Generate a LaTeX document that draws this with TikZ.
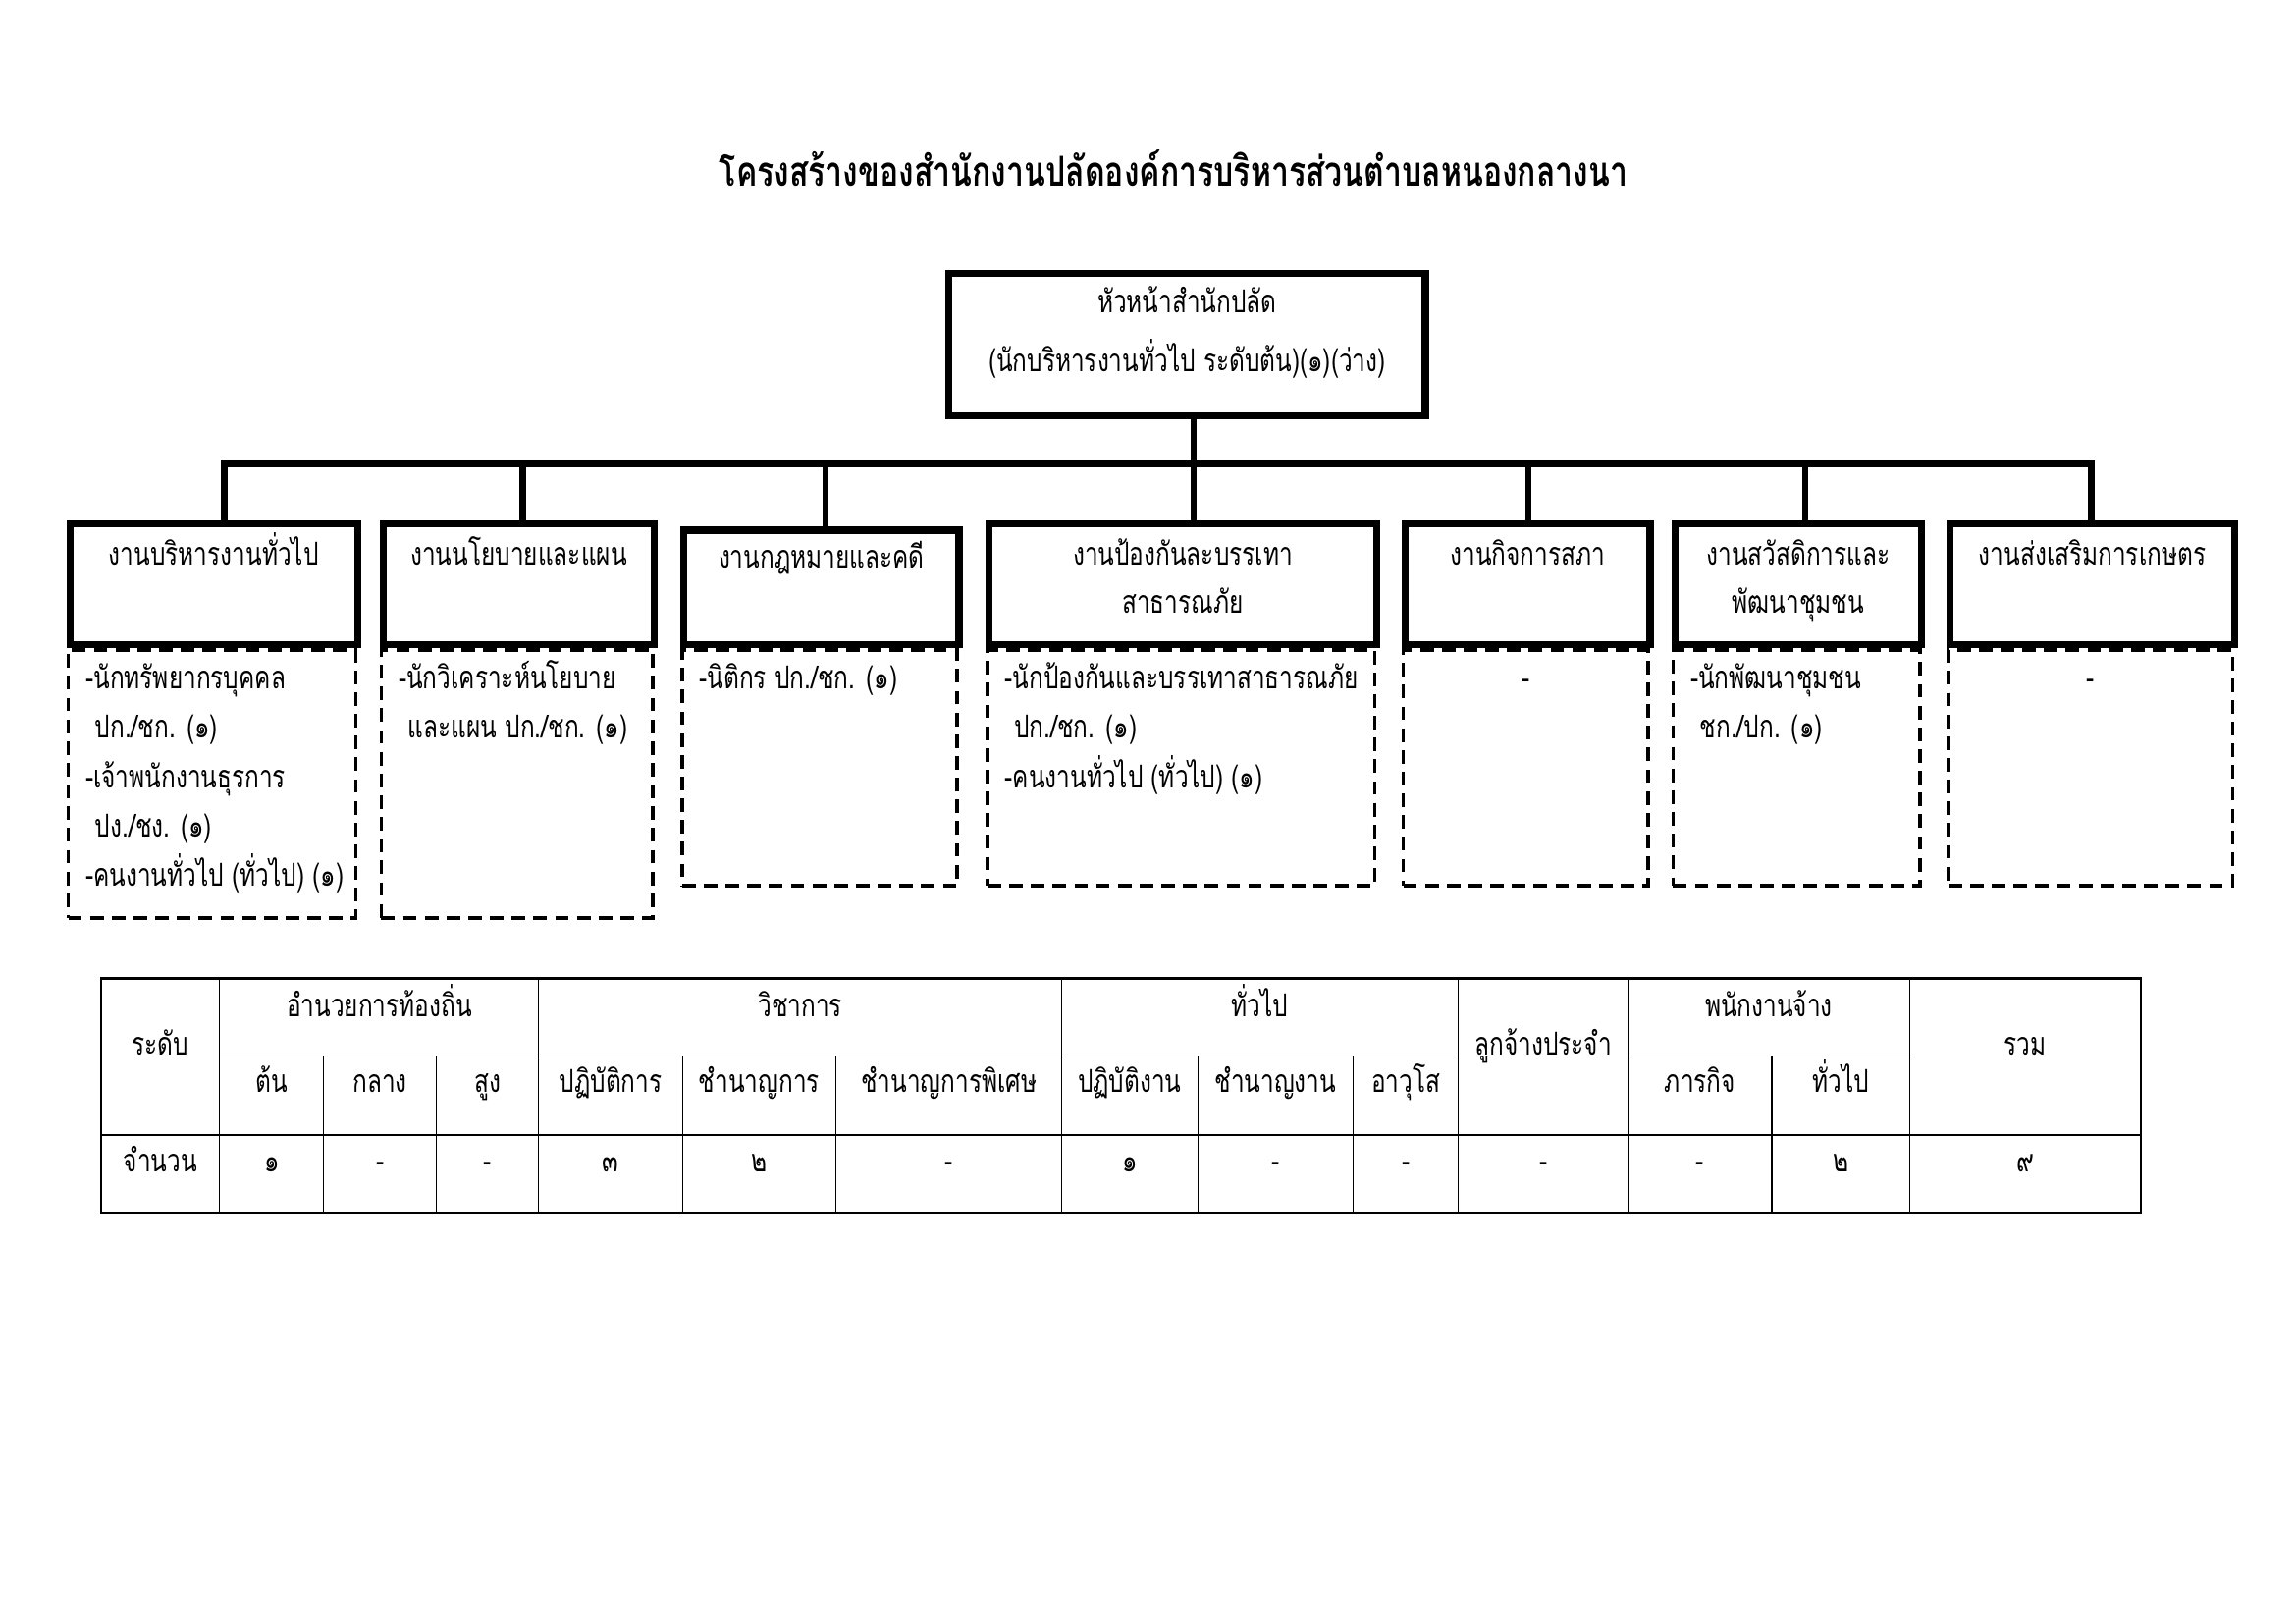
\documentclass[tikz,border=0pt]{standalone}
\usepackage{fontspec}
\setmainfont{Loma}[Script=Thai, FakeStretch=0.76]
\usetikzlibrary{positioning,calc}
\tikzset{
  headbox/.style={draw, line width=2.6pt, fill=white, anchor=north west, minimum height=1.56cm},
  listbox/.style={draw, line width=1.3pt, dash pattern=on 5pt off 3pt, anchor=north west},
  busline/.style={line width=2.3pt, line cap=rect},
  boxtext/.style={align=center, inner sep=0pt, font=\fontsize{11.6}{17.6}\selectfont},
  listtext/.style={align=left, inner sep=0pt, font=\fontsize{11.6}{18.2}\selectfont},
  cell/.style={inner sep=0pt, text height=0.35cm, text depth=0.15cm, font=\fontsize{11.6}{13}\selectfont},
  tabline/.style={line width=0.4pt},
  tabframe/.style={line width=1pt}
}

\begin{document}
\begin{tikzpicture}
  \fill[white] (0,0) rectangle (29.7,21.0);
  \useasboundingbox (0,0) rectangle (29.7,21.0);

  % title
  \node[cell, font=\fontsize{15.2}{17}\selectfont\bfseries] (title) at (15.18,18.70)
    {โครงสร้างของสำนักงานปลัดองค์การบริหารส่วนตำบลหนองกลางนา};

  % head of office
  \node[headbox, minimum width=6.16cm, minimum height=1.84cm] (top) at (12.23,17.51) {};
  \node[boxtext, font=\fontsize{11.6}{21.5}\selectfont, below=0.02cm of top.north] (topt)
    {\strut หัวหน้าสำนักปลัด\\(นักบริหารงานทั่วไป ระดับต้น)(๑)(ว่าง)};

  % sections
  \node[headbox, minimum width=3.72cm] (s1) at (0.86,14.27) {};
  \node[headbox, minimum width=3.51cm] (s2) at (4.91,14.27) {};
  \node[headbox, minimum width=3.56cm, minimum height=1.48cm] (s3) at (8.80,14.19) {};
  \node[headbox, minimum width=5.01cm] (s4) at (12.75,14.27) {};
  \node[headbox, minimum width=3.17cm] (s5) at (18.13,14.27) {};
  \node[headbox, minimum width=3.19cm] (s6) at (21.62,14.27) {};
  \node[headbox, minimum width=3.68cm] (s7) at (25.18,14.27) {};

  \node[boxtext, below=0.14cm of s1.north] (s1t) {\strut งานบริหารงานทั่วไป};
  \node[boxtext, below=0.14cm of s2.north] (s2t) {\strut งานนโยบายและแผน};
  \node[boxtext, below=0.10cm of s3.north] (s3t) {\strut งานกฎหมายและคดี};
  \node[boxtext, below=0.14cm of s4.north] (s4t) {\strut งานป้องกันละบรรเทา\\สาธารณภัย};
  \node[boxtext, below=0.14cm of s5.north] (s5t) {\strut งานกิจการสภา};
  \node[boxtext, below=0.14cm of s6.north] (s6t) {\strut งานสวัสดิการและ\\พัฒนาชุมชน};
  \node[boxtext, below=0.14cm of s7.north] (s7t) {\strut งานส่งเสริมการเกษตร};

  % staff lists
  \node[listbox, minimum width=3.72cm, minimum height=3.47cm] (l1) at (s1.south west) {};
  \node[listbox, minimum width=3.51cm, minimum height=3.47cm] (l2) at (s2.south west) {};
  \node[listbox, minimum width=3.56cm, minimum height=3.05cm] (l3) at (s3.south west) {};
  \node[listbox, minimum width=5.01cm, minimum height=3.05cm] (l4) at (s4.south west) {};
  \node[listbox, minimum width=3.17cm, minimum height=3.05cm] (l5) at (s5.south west) {};
  \node[listbox, minimum width=3.19cm, minimum height=3.05cm] (l6) at (s6.south west) {};
  \node[listbox, minimum width=3.68cm, minimum height=3.05cm] (l7) at (s7.south west) {};

  \node[listtext, below right=0.07cm and 0.24cm of l1.north west] (l1t)
    {\strut -นักทรัพยากรบุคคล\\\hspace*{.3em}ปก./ชก. (๑)\\-เจ้าพนักงานธุรการ\\\hspace*{.3em}ปง./ชง. (๑)\\-คนงานทั่วไป (ทั่วไป) (๑)};
  \node[listtext, below right=0.07cm and 0.24cm of l2.north west] (l2t)
    {\strut -นักวิเคราะห์นโยบาย\\\hspace*{.3em}และแผน ปก./ชก. (๑)};
  \node[listtext, below right=0.07cm and 0.24cm of l3.north west] (l3t)
    {\strut -นิติกร ปก./ชก. (๑)};
  \node[listtext, below right=0.07cm and 0.24cm of l4.north west] (l4t)
    {\strut -นักป้องกันและบรรเทาสาธารณภัย\\\hspace*{.3em}ปก./ชก. (๑)\\-คนงานทั่วไป (ทั่วไป) (๑)};
  \node[listtext, below=0.07cm of l5.north] (l5t) {\strut -};
  \node[listtext, below right=0.07cm and 0.24cm of l6.north west] (l6t)
    {\strut -นักพัฒนาชุมชน\\\hspace*{.3em}ชก./ปก. (๑)};
  \node[listtext, below=0.07cm of l7.north] (l7t) {\strut -};

  % connectors
  \foreach \x [count=\i] in {2.90,6.76,10.68,15.44,19.77,23.35,27.05}
    \coordinate (b\i) at (\x,15.0);
  \draw[busline] (b1) -- (b7);
  \draw[busline] (top.south -| b4) -- (b4);
  \foreach \i in {1,...,7}
    \draw[busline] (b\i) -- (b\i |- s\i.north);

  % table
  \draw[tabline] (2.841,7.344) -- (18.865,7.344) (21.062,7.344) -- (24.699,7.344);
  \foreach \x in {2.841,6.970,13.732,18.865,21.062,24.699}
    \draw[tabline] (\x,8.347) -- (\x,5.317);
  \foreach \x in {4.186,5.644,8.827,10.815,15.494,17.502,22.919}
    \draw[tabline] (\x,7.344) -- (\x,5.317);
  \draw[tabframe] (1.307,6.321) -- (27.692,6.321);
  \draw[tabframe] (1.307,8.347) rectangle (27.692,5.317);

  \node[cell] (lvl) at (2.074,7.46) {ระดับ};
  \node[cell] (emp) at (19.964,7.46) {ลูกจ้างประจำ};
  \node[cell] (tot) at (26.196,7.46) {รวม};
  \node[cell] (cnt) at (2.074,5.95) {จำนวน};
  \foreach \x/\t [count=\i] in {4.906/อำนวยการท้องถิ่น,10.351/วิชาการ,16.299/ทั่วไป,22.881/พนักงานจ้าง}
    \node[cell] (g\i) at (\x,7.955) {\t};
  \foreach \x/\t [count=\i] in {3.514/ต้น,4.915/กลาง,6.307/สูง,7.899/ปฏิบัติการ,9.821/ชำนาญการ,
      12.274/ชำนาญการพิเศษ,14.613/ปฏิบัติงาน,16.498/ชำนาญงาน,18.184/อาวุโส,21.991/ภารกิจ,23.809/ทั่วไป}
    \node[cell] (h\i) at (\x,6.97) {\t};
  \foreach \x/\t [count=\i] in {3.514/๑,4.915/-,6.307/-,7.899/๓,9.821/๒,12.274/-,14.613/๑,
      16.498/-,18.184/-,19.964/-,21.991/-,23.809/๒,26.196/๙}
    \node[cell] (d\i) at (\x,5.95) {\t};
\end{tikzpicture}
\end{document}
